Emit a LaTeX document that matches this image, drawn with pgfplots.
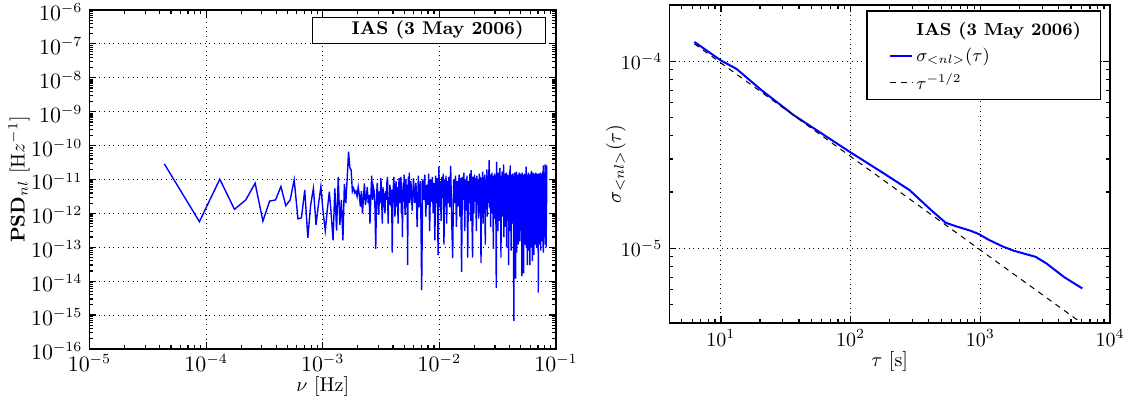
\documentclass[border=0pt]{standalone}
\usepackage{pgfplots}
\pgfplotsset{compat=1.18}
\definecolor{mplblue}{rgb}{0,0,1}
\begin{document}
\begin{tikzpicture}[x=1pt,y=1pt]
\useasboundingbox (0,0) rectangle (562.5,202.5);
\pgfplotsset{
  every axis/.append style={
    scale only axis,
    xmode=log, ymode=log,
    axis line style={line width=0.8pt},
    tick pos=both, tick align=inside,
    major tick length=3.5pt, minor tick length=2pt,
    every tick/.style={black, line width=0.6pt},
    grid=major,
    major grid style={black, dotted, line width=0.5pt},
  }
}
% ---- left: power spectral density ----
\begin{axis}[
    at={(44.75pt,28pt)}, anchor=south west,
    width=233.25pt, height=169.5pt,
    xmin=1e-5, xmax=1e-1, ymin=1e-16, ymax=1e-6,
    xtickten={-5,-4,-3,-2,-1},
    ytickten={-16,-15,-14,-13,-12,-11,-10,-9,-8,-7,-6},
    tick label style={font=\fontsize{10.6}{12}\selectfont},
    xticklabel style={yshift=1pt},
    yticklabel style={yshift=-1pt},
    xlabel={$\nu$ [Hz]},
    ylabel={$\mathbf{PSD}_{nl}$ [H$z^{-1}$]},
    every axis x label/.style={at={(axis description cs:0.5,-0.112)}, anchor=center},
    every axis y label/.style={at={(axis description cs:-0.151,0.5)}, rotate=90, anchor=center},
  ]
  \addplot[mplblue, line width=0.7pt] coordinates {
    (4.38e-5,2.9e-11) (8.76e-5,5.7e-13) (1.31e-4,1.02e-11) (1.75e-4,1.32e-12) (2.19e-4,2.5e-12) (2.63e-4,7.8e-12) (3.07e-4,5.9e-13) (3.50e-4,2.3e-12)
    (3.94e-4,2.5e-12) (4.38e-4,6.2e-12) (4.82e-4,1.7e-12) (5.26e-4,2.5e-12) (5.69e-4,9.8e-12) (6.13e-4,6.9e-13) (6.57e-4,7.4e-13) (7.01e-4,4.9e-12)
    (7.45e-4,1.9e-13) (7.88e-4,1.8e-12) (8.32e-4,5.5e-12) (8.76e-4,4.6e-13) (9.20e-4,1.9e-12) (9.64e-4,6.2e-12) (1.007e-3,1.1e-12) (1.051e-3,3.1e-13)
    (1.095e-3,1.3e-12) (1.139e-3,4.4e-12) (1.183e-3,9e-13) (1.226e-3,1.6e-13) (1.270e-3,5.5e-12) (1.314e-3,3.1e-13) (1.358e-3,1.2e-11) (1.402e-3,4.6e-13)
    (1.445e-3,2.5e-12) (1.489e-3,1.6e-13) (1.533e-3,7.4e-12) (1.577e-3,2e-12) (1.621e-3,1.1e-11) (1.664e-3,6.6e-11) (1.708e-3,2.2e-11) (1.752e-3,1.9e-11)
    (1.796e-3,4.4e-12) (1.840e-3,5.5e-12) (1.883e-3,4e-12) (1.927e-3,4.6e-12) (1.971e-3,3.2e-12) (2.015e-3,6e-12) (2.059e-3,3.5e-12) (2.102e-3,1.6e-12)
    (2.146e-3,4.5e-12) (2.190e-3,1e-12) (2.234e-3,3e-12) (2.278e-3,7.6e-12) (2.322e-3,1.8e-12) (2.365e-3,2.8e-12) (2.409e-3,6e-12) (2.453e-3,2e-12)
    (2.497e-3,3.5e-12) (2.541e-3,5e-13) (2.584e-3,3e-12) (2.628e-3,1.3e-11) (2.672e-3,2.5e-12) (2.716e-3,6e-12) (2.759e-3,4.5e-12) (2.803e-3,1.5e-12)
    (2.847e-3,9e-14) (2.891e-3,3e-12) (2.935e-3,8e-12) (2.978e-3,2.3e-12) (3.022e-3,9e-13) (3.066e-3,4.5e-12) (3.110e-3,2e-12) (3.154e-3,1.1e-11)
    (3.197e-3,3e-12) (3.241e-3,5e-13) (3.285e-3,6e-12) (3.329e-3,1.5e-12) (3.373e-3,4e-12) (3.416e-3,1e-12) (3.460e-3,4.5e-12) (3.504e-3,2.5e-12)
    (3.548e-3,8e-12) (3.592e-3,1.2e-11) (3.635e-3,5e-13) (3.679e-3,3e-12) (3.723e-3,1.8e-12) (3.767e-3,7e-12) (3.811e-3,3.5e-12) (3.854e-3,1.6e-12)
    (3.898e-3,5e-12) (3.942e-3,7e-14) (3.986e-3,2e-12) (4.030e-3,6e-12) (4.073e-3,1.2e-11) (4.117e-3,3e-12) (4.161e-3,8e-13) (4.205e-3,2.5e-12)
    (4.249e-3,9e-12) (4.292e-3,4.4e-12) (4.336e-3,1.5e-12) (4.380e-3,6e-12) (4.424e-3,5e-13) (4.468e-3,3e-12) (4.511e-3,1.1e-11) (4.555e-3,4e-12)
    (4.599e-3,2e-12) (4.643e-3,7e-12) (4.687e-3,1.2e-11) (4.730e-3,1e-12) (4.774e-3,5e-12) (4.818e-3,2e-13) (4.862e-3,3e-12) (4.906e-3,8e-12)
    (4.949e-3,2.2e-12) (4.993e-3,1.4e-11) (5.037e-3,4e-12) (5.081e-3,9e-13) (5.125e-3,6e-12) (5.168e-3,1e-11) (5.212e-3,2.5e-12) (5.256e-3,1.5e-12)
    (5.300e-3,7e-12) (5.344e-3,3e-14) (5.387e-3,4e-12) (5.431e-3,1.2e-11) (5.475e-3,3.5e-12) (5.519e-3,1.6e-11) (5.563e-3,2e-12)
    (5.70e-3,9e-12) (5.85e-3,1.2e-12) (6.00e-3,1.1e-11) (6.15e-3,2e-12) (6.30e-3,8e-12) (6.45e-3,4e-13) (6.60e-3,1.3e-11) (6.75e-3,1.5e-12)
    (6.90e-3,9e-12) (7.05e-3,5.5e-15) (7.20e-3,1e-11) (7.35e-3,2.5e-12) (7.50e-3,1.4e-11) (7.65e-3,8e-13) (7.80e-3,7e-12) (7.95e-3,1.8e-12)
    (8.10e-3,1.5e-11) (8.25e-3,3e-13) (8.40e-3,1e-11) (8.55e-3,2.2e-12) (8.70e-3,1.2e-11) (8.85e-3,1e-12) (9.00e-3,8e-12) (9.15e-3,1.6e-13)
    (9.30e-3,1.3e-11) (9.45e-3,2e-12) (9.60e-3,1.1e-11) (9.75e-3,5.9e-14) (9.90e-3,2.4e-11) (10.05e-3,1.5e-12) (10.20e-3,9e-12) (10.35e-3,6e-13)
    (10.50e-3,1.2e-11) (10.65e-3,2.8e-12) (10.80e-3,1.5e-11) (10.95e-3,1.2e-13) (11.10e-3,1e-11) (11.25e-3,1.7e-12) (11.40e-3,1.3e-11) (11.55e-3,5e-13)
    (11.70e-3,9e-12) (11.85e-3,2e-12)
    (0.01200,1.2e-11) (0.01225,1.5e-12) (0.01250,2.5e-11) (0.01275,7e-13) (0.01300,4.8e-14) (0.01325,1e-11) (0.01350,2e-12) (0.01375,1.3e-11) (0.01400,4e-13) (0.01425,9e-12)
    (0.01450,1.6e-12) (0.01475,1.4e-11) (0.01500,8e-13) (0.01525,1.1e-11) (0.01550,1.9e-14) (0.01575,1.2e-11) (0.01600,2.5e-12) (0.01625,1.6e-11) (0.01650,3e-13) (0.01675,1e-11)
    (0.01700,1.2e-12) (0.01725,1.3e-11) (0.01750,5e-14) (0.01775,9e-12) (0.01800,2e-12) (0.01825,1.5e-11) (0.01850,6e-13) (0.01875,1.9e-11) (0.01900,1.4e-12) (0.01925,5e-14)
    (0.01950,1.2e-11) (0.01975,1e-12) (0.02000,1.4e-11) (0.02025,2.2e-12) (0.02050,1.1e-11) (0.02075,3e-13) (0.02100,1.3e-11) (0.02125,1.8e-12) (0.02150,1e-11) (0.02175,7e-13)
    (0.02200,1.5e-11) (0.02225,2e-12) (0.02250,1.2e-11) (0.02275,3.4e-14) (0.02300,1.1e-11) (0.02325,1.5e-12) (0.02350,1.7e-11) (0.02375,5e-13) (0.02400,1.2e-11) (0.02425,2.5e-12)
    (0.02450,1.4e-11) (0.02475,1.2e-13) (0.02500,1e-11) (0.02525,1.7e-12) (0.02550,2e-11) (0.02575,8e-13) (0.02600,1.3e-11) (0.02625,2e-12) (0.02650,1.1e-11) (0.02675,3.7e-11)
    (0.02700,1.5e-12) (0.02725,1.4e-11) (0.02750,4e-13) (0.02775,1.2e-11) (0.02800,2.2e-12) (0.02825,1.6e-11) (0.02850,1e-12) (0.02875,1.3e-11) (0.02900,9e-14) (0.02925,1.2e-11)
    (0.02950,2e-12) (0.02975,1.5e-11) (0.03000,7e-13) (0.03025,1.3e-11) (0.03050,1.8e-12) (0.03075,6.2e-15) (0.03100,3.3e-11) (0.03125,1.2e-12) (0.03150,1.4e-11) (0.03175,3e-13)
    (0.03200,1.6e-11) (0.03225,2.4e-12) (0.03250,1.2e-11) (0.03275,6e-13) (0.03300,2.2e-11) (0.03325,1.5e-12) (0.03350,1.3e-11) (0.03375,5e-14) (0.03400,1.1e-11) (0.03425,2e-12)
    (0.03450,1.7e-11) (0.03475,8e-13) (0.03500,1.3e-11) (0.03525,2.6e-12) (0.03550,2.8e-11) (0.03575,2e-13) (0.03600,1.2e-11) (0.03625,1.4e-12) (0.03650,1.5e-11) (0.03675,4e-13)
    (0.03700,1.3e-11) (0.03725,1.8e-12) (0.03750,1.6e-11) (0.03775,1e-13) (0.03800,1.1e-11) (0.03825,2.2e-12) (0.03850,1.4e-11) (0.03875,6e-13) (0.03900,1.2e-11) (0.03925,3e-14)
    (0.03950,1.3e-11) (0.03975,1.5e-12) (0.04000,1.7e-11) (0.04025,3e-13) (0.04050,2.6e-11) (0.04075,1.8e-12) (0.04100,1.2e-11) (0.04125,8e-14) (0.04150,1.4e-11) (0.04175,1.2e-12)
    (0.04200,1.2e-11) (0.04225,5e-13) (0.04250,1.5e-11) (0.04275,2e-12) (0.04300,1.3e-11) (0.04325,1e-13) (0.04350,6.8e-16) (0.04375,1.1e-11) (0.04400,1.5e-12) (0.04425,1.6e-11)
    (0.04450,2e-13) (0.04475,1.2e-11) (0.04500,1.2e-14) (0.04525,1.3e-11) (0.04550,1e-12) (0.04575,1.7e-11) (0.04600,7e-14) (0.04625,1.2e-11) (0.04650,1.8e-12) (0.04675,1.4e-11)
    (0.04700,4e-13) (0.04725,1.3e-11) (0.04750,1.2e-13) (0.04775,1.1e-11) (0.04800,2e-12) (0.04825,1.6e-11) (0.04850,6e-13) (0.04875,1.2e-11) (0.04900,1.5e-13) (0.04925,1.5e-11)
    (0.04950,1.4e-12) (0.04975,1.2e-11) (0.05000,3e-13) (0.05025,1.4e-11) (0.05050,2.2e-12) (0.05075,1.1e-11) (0.05100,1.4e-14) (0.05125,1.6e-11) (0.05150,9e-13) (0.05175,1.3e-11)
    (0.05200,1.5e-13) (0.05225,1.2e-11) (0.05250,1.7e-12) (0.05275,1.7e-14) (0.05300,1.4e-11) (0.05325,5e-13) (0.05350,1.1e-11) (0.05375,1.2e-13) (0.05400,1.5e-11) (0.05425,2e-12)
    (0.05450,1.3e-11) (0.05475,3e-13) (0.05500,1.2e-11) (0.05525,1e-12) (0.05550,2.4e-11) (0.05575,1e-13) (0.05600,1.3e-11) (0.05625,1.6e-12) (0.05650,1.1e-11) (0.05675,3e-14)
    (0.05700,1.4e-11) (0.05725,7e-13) (0.05750,1.2e-11) (0.05775,2e-12) (0.05800,1.6e-11) (0.05825,8e-14) (0.05850,1.2e-11) (0.05875,1.3e-12) (0.05900,1.4e-11) (0.05925,4e-13)
    (0.05950,1.3e-11) (0.05975,3e-14) (0.06000,1.1e-11) (0.06025,1.8e-12) (0.06050,1.5e-11) (0.06075,2e-13) (0.06100,1.3e-11) (0.06125,9e-13) (0.06150,1.8e-11) (0.06175,1e-13)
    (0.06200,1.2e-11) (0.06225,1.5e-12) (0.06250,1.4e-11) (0.06275,4e-14) (0.06300,1.1e-11) (0.06325,2e-12) (0.06350,1.6e-11) (0.06375,3e-13) (0.06400,1.2e-11) (0.06425,1.2e-12)
    (0.06450,1.3e-11) (0.06475,6e-14) (0.06500,1.5e-11) (0.06525,1.6e-12) (0.06550,1.2e-11) (0.06575,2e-13) (0.06600,1.4e-11) (0.06625,8e-13) (0.06650,1.1e-11) (0.06675,1.2e-13)
    (0.06700,1.6e-11) (0.06725,1.4e-12) (0.06750,1.2e-11) (0.06775,3e-13) (0.06800,1.3e-11) (0.06825,1e-13) (0.06850,1.1e-11) (0.06875,2e-12) (0.06900,1.5e-11) (0.06925,6e-13)
    (0.06950,1.2e-11) (0.06975,1.5e-13) (0.07000,1.4e-11) (0.07025,1.2e-12) (0.07050,4.6e-15) (0.07075,1.3e-11) (0.07100,7e-13) (0.07125,1.5e-11) (0.07150,2e-12) (0.07175,1.2e-11)
    (0.07200,1.2e-13) (0.07225,1.4e-11) (0.07250,1.5e-12) (0.07275,1.1e-11) (0.07300,3e-13) (0.07325,1.6e-11) (0.07350,1e-12) (0.07375,1.2e-11) (0.07400,8e-14) (0.07425,1.3e-11)
    (0.07450,2e-12) (0.07475,1.5e-11) (0.07500,4e-13) (0.07525,1.2e-11) (0.07550,1.5e-13) (0.07575,1.4e-11) (0.07600,1.6e-12) (0.07625,1.1e-11) (0.07650,6e-13) (0.07675,1.7e-11)
    (0.07700,1.2e-12) (0.07725,1.3e-11) (0.07750,1e-13) (0.07775,2.6e-11) (0.07800,7e-14) (0.07825,1.2e-11) (0.07850,2e-12) (0.07875,1.4e-11) (0.07900,5e-13) (0.07925,1.2e-11)
    (0.07950,1.5e-12) (0.07975,1.6e-11) (0.08000,2e-13) (0.08025,1.3e-11) (0.08050,9e-13) (0.08075,2.8e-11) (0.08100,1.2e-13) (0.08125,1.2e-11) (0.08150,1.8e-12) (0.08175,1.5e-11)
    (0.08200,7e-13) (0.08225,1.3e-11) (0.08250,1e-13) (0.08275,1.2e-11) (0.08300,2e-12) (0.08325,2.6e-11)
  };
  \node[draw=black, fill=white, line width=0.6pt, anchor=north east,
        minimum width=116.5pt, minimum height=13pt, inner sep=0pt]
    at ([xshift=-5pt,yshift=-3.5pt]rel axis cs:1,1) {};
  \node[anchor=east, inner sep=0pt, font=\fontsize{9.2}{11}\selectfont]
    at ([xshift=-16pt,yshift=-10pt]rel axis cs:1,1) {\textbf{IAS (3 May 2006)}};
\end{axis}
% ---- right: Allan deviation ----
\begin{axis}[
    at={(334.65pt,41.15pt)}, anchor=south west,
    width=220.35pt, height=158.85pt,
    xmin=4, xmax=1e4, ymin=4e-6, ymax=2e-4,
    xlabel={$\tau$ [s]},
    ylabel={$\sigma_{<nl>}(\tau)$},
    every axis x label/.style={at={(axis description cs:0.5,-0.1206)}, anchor=center},
    every axis y label/.style={at={(axis description cs:-0.121,0.5)}, rotate=90, anchor=center},
    legend cell align=left,
    legend style={draw=none, fill=none, at={(0.4486,0.981)}, anchor=north west,
      xshift=8pt, yshift=-2pt, font=\fontsize{8.8}{10}\selectfont,
      row sep=1.5pt, nodes={inner sep=1.5pt}},
    legend image code/.code={\draw[#1] (0pt,0pt) -- (11pt,0pt);},
  ]
  \draw[fill=white, line width=0.6pt] (rel axis cs:0.4486,0.981) rectangle ([xshift=116.8pt,yshift=-44.2pt]rel axis cs:0.4486,0.981);
  \addlegendimage{empty legend}
  \addlegendentry{\textbf{IAS (3 May 2006)}}
  \addplot[mplblue, line width=1pt] coordinates {
    (6.24,1.27e-4) (10,1.01e-4) (13.2,9.1e-5) (20.7,6.98e-5) (36.6,5.14e-5)
    (99,3.27e-5) (181,2.51e-5) (284,2.05e-5) (418,1.60e-5) (540,1.37e-5)
    (653,1.31e-5) (844,1.24e-5) (977,1.19e-5) (1162,1.11e-5) (1500,1.02e-5)
    (1816,9.7e-6) (2670,9.0e-6) (3234,8.3e-6) (4450,7.0e-6) (6120,6.1e-6)
  };
  \addlegendentry{$\sigma_{<nl>}(\tau)$}
  \addplot[black, line width=0.5pt, dash pattern=on 2.8pt off 2.5pt] coordinates {
    (6.24,1.24e-4) (6120,3.96e-6)
  };
  \addlegendentry{$\tau^{-1/2}$}
\end{axis}
\end{tikzpicture}
\end{document}
